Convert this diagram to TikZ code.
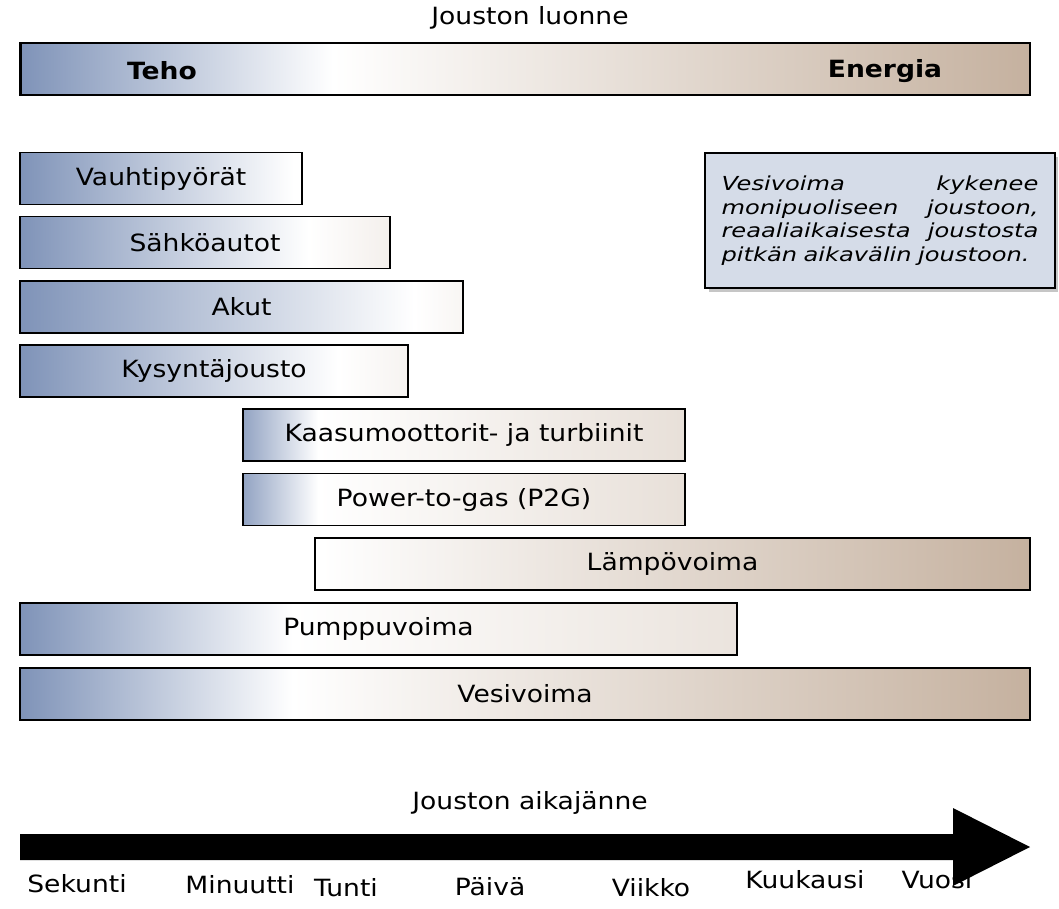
\documentclass[tikz,border=0pt]{standalone}
\usepackage{fontspec}
\setmainfont{DejaVu Sans}[FakeStretch=1.12]
\newfontfamily\huomiofont{DejaVu Sans}[FakeStretch=1.25]
\usetikzlibrary{calc,shadows}

\definecolor{teho}{HTML}{7F93B8}
\definecolor{energia}{HTML}{C5B19F}
\definecolor{huomio}{HTML}{D5DCE8}

\tikzset{
	teksti/.style={font=\fontsize{13.5}{16}\selectfont},
	flex/.style n args={3}{draw=black, line width=1.1pt, minimum height=1.04cm, inner sep=0pt, teksti,
		path picture={
			\coordinate (w) at ($(path picture bounding box.south west)!#1!(path picture bounding box.south east)$);
			\shade[left color=teho!#3!white, right color=white] (path picture bounding box.south west) rectangle (w |- path picture bounding box.north);
			\shade[left color=white, right color=energia!#2!white] (w) rectangle (path picture bounding box.north east);
		}}
}

\begin{document}
\begin{tikzpicture}[x=0.02cm,y=-0.02cm]
	\useasboundingbox (0,0) rectangle (1059,909);
	% jouston luonne
	\node[teksti] (luonne) at (530,18) {Jouston luonne};
	\node[flex={0.31}{100}{100}, minimum width=20.2cm, line width=1.6pt] (akseli) at (525,69) {};
	\node[teksti] (tehoteksti) at (162,71) {\textbf{Teho}};
	\node[teksti] (energiateksti) at (885,71) {\textbf{Energia}};
	% jouston lahteet
	\node[flex={0.97}{0}{100}, minimum width=5.64cm] (vauhti) at (161,178.5) {Vauhtipyörät};
	\node[flex={0.78}{20}{100}, minimum width=7.4cm] (sahko) at (205,242.5) {Sähköautot};
	\node[flex={0.89}{12}{100}, minimum width=8.86cm] (akut) at (241.5,307) {Akut};
	\node[flex={0.82}{15}{100}, minimum width=7.76cm] (kysynta) at (214,371) {Kysyntäjousto};
	\node[flex={0.17}{40}{85}, minimum width=8.84cm] (kaasu) at (464,435) {Kaasumoottorit- ja turbiinit};
	\node[flex={0.17}{40}{85}, minimum width=8.84cm] (p2g) at (464,499.5) {Power-to-gas (P2G)};
	\node[flex={0.01}{100}{0}, minimum width=14.3cm] (lampo) at (672.5,564) {Lämpövoima};
	\node[flex={0.38}{35}{100}, minimum width=14.34cm] (pumppu) at (378.5,629) {Pumppuvoima};
	\node[flex={0.27}{100}{100}, minimum width=20.2cm] (vesi) at (525,694) {Vesivoima};
	% huomio
	\node[draw=black, line width=1.2pt, fill=huomio, outer sep=0pt,
		drop shadow={shadow xshift=2pt, shadow yshift=-2.5pt, opacity=0.45},
		text width=6.34cm, minimum height=2.7cm, inner xsep=0.33cm, align=left,
		font=\huomiofont\itshape\fontsize{11}{13.4}\selectfont] (huomio) at (880,220.5)
		{Vesivoima \hfill kykenee\\ monipuoliseen \hfill joustoon,\\ reaaliaikaisesta \hfill joustosta\\ pitkän aikavälin joustoon.};
	% jouston aikajanne
	\node[teksti] (aikajanne) at (530,803) {Jouston aikajänne};
	\fill (20,834) -- (953,834) -- (953,808) -- (1030,847) -- (953,886) -- (953,860) -- (20,860) -- cycle;
	\node[teksti] (sekunti) at (77,884) {Sekunti};
	\node[teksti] (minuutti) at (240,885) {Minuutti};
	\node[teksti] (tunti) at (346,888) {Tunti};
	\node[teksti] (paiva) at (490,887) {Päivä};
	\node[teksti] (viikko) at (651,888) {Viikko};
	\node[teksti] (kuukausi) at (805,880) {Kuukausi};
	\node[teksti] (vuosi) at (937,880) {Vuosi};
\end{tikzpicture}
\end{document}
